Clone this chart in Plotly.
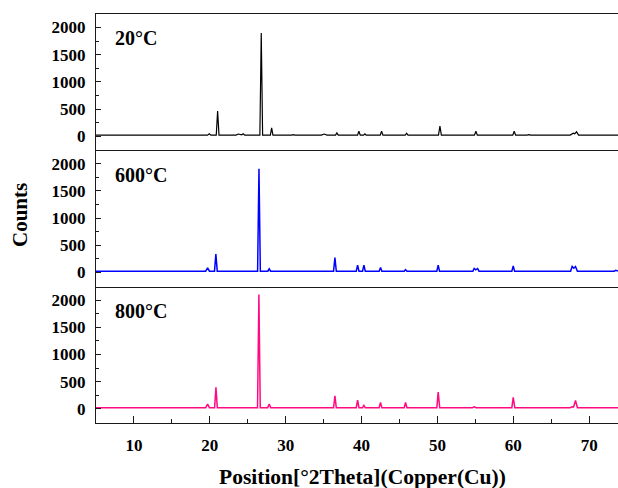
import plotly.graph_objects as go
from plotly.subplots import make_subplots

# XRD patterns (2-theta in degrees, counts) for the three treatment temperatures
two_theta_20c = [5.0, 19.7, 19.93, 20.15, 20.85, 21.03, 21.21,
                 23.45, 23.75, 24.05, 24.2, 24.4, 24.6,
                 26.6, 26.78, 26.96, 27.98, 28.15, 28.32,
                 30.8, 31.0, 31.2, 34.7, 35.08, 35.45,
                 36.57, 36.75, 36.93, 39.47, 39.65, 39.83,
                 40.27, 40.44, 40.61, 42.46, 42.64, 42.82,
                 45.76, 45.94, 46.12, 50.14, 50.33, 50.52,
                 54.88, 55.07, 55.26, 59.93, 60.12, 60.31,
                 61.8, 62.06, 62.3, 67.5, 67.9, 68.1, 68.34, 68.6, 73.8]
counts_20c = [20, 20, 45, 20, 20, 465, 20,
              20, 40, 25, 25, 45, 20,
              20, 1900, 20, 20, 153, 20,
              20, 30, 20, 20, 40, 20,
              20, 60, 20, 20, 92, 20,
              20, 45, 20, 20, 90, 20,
              20, 55, 20, 20, 185, 20,
              20, 90, 20, 20, 90, 20,
              20, 28, 20, 20, 55, 45, 80, 20, 20]

two_theta_600c = [5.0, 19.45, 19.71, 19.95, 20.62, 20.8, 20.98,
                  23.4, 23.75, 24.1, 26.3, 26.48, 26.66,
                  27.65, 27.83, 28.01, 30.4, 30.56, 30.72,
                  34.4, 34.7, 35.0, 36.31, 36.49, 36.67,
                  39.3, 39.48, 39.66, 39.9, 40.13, 40.31, 40.49,
                  42.32, 42.5, 42.68, 45.62, 45.8, 45.98,
                  49.92, 50.1, 50.28, 54.67, 54.85, 55.05, 55.3, 55.48,
                  59.81, 59.99, 60.17, 63.7, 63.94, 64.2,
                  67.55, 67.76, 67.98, 68.2, 68.45, 73.3, 73.5, 73.8]
counts_600c = [25, 25, 87, 25, 25, 340, 25,
               25, 32, 25, 25, 1910, 25,
               25, 68, 25, 25, 30, 25,
               25, 32, 25, 25, 277, 25,
               25, 136, 25, 25, 25, 136, 25,
               25, 93, 25, 25, 55, 25,
               25, 136, 25, 25, 74, 50, 74, 25,
               25, 123, 25, 25, 30, 25,
               25, 111, 80, 111, 25, 25, 40, 30]

two_theta_800c = [5.0, 19.45, 19.71, 19.95, 20.63, 20.81, 20.99,
                  23.1, 23.5, 23.9, 26.29, 26.47, 26.65,
                  27.63, 27.83, 28.03, 34.4, 34.7, 35.0,
                  36.31, 36.49, 36.67, 39.3, 39.48, 39.66,
                  40.13, 40.31, 40.49, 42.32, 42.5, 42.68,
                  45.62, 45.8, 45.98, 49.92, 50.1, 50.3,
                  54.6, 54.85, 55.1, 59.81, 59.99, 60.2,
                  63.75, 64.0, 64.25, 67.5, 67.76, 67.95, 68.2, 68.45,
                  73.3, 73.5, 73.8]
counts_800c = [22, 22, 87, 22, 22, 395, 22,
               22, 35, 22, 22, 2105, 22,
               22, 87, 22, 22, 32, 22,
               22, 240, 22, 22, 160, 22,
               22, 63, 22, 22, 118, 22,
               22, 118, 22, 22, 309, 22,
               22, 37, 22, 22, 210, 22,
               22, 30, 22, 22, 40, 35, 155, 22,
               22, 20, 22]

panel_labels = ["20°C", "600°C", "800°C"]
line_colors = ["#000000", "#0000ff", "#ff0a82"]
line_widths = [1.2, 1.5, 1.5]
y_ticks = [0, 500, 1000, 1500, 2000]
x_ticks = [10, 20, 30, 40, 50, 60, 70]

FONT = "Liberation Serif"
AXIS_COLOR = "#1a1a1a"
tick_font = dict(family=FONT, size=17, color="#000", weight="bold")


def bold(values):
    return [f"<b>{v}</b>" for v in values]


series = [(two_theta_20c, counts_20c), (two_theta_600c, counts_600c),
          (two_theta_800c, counts_800c)]

fig = make_subplots(rows=3, cols=1, shared_xaxes=True, vertical_spacing=0)

for i, ((xs, ys), color, lw) in enumerate(zip(series, line_colors, line_widths), start=1):
    fig.add_trace(go.Scatter(x=xs, y=ys, mode="lines",
                             line=dict(color=color, width=lw),
                             showlegend=False, hoverinfo="skip"),
                  row=i, col=1)
    fig.update_yaxes(range=[-260, 2248], tickvals=y_ticks, ticktext=bold(y_ticks),
                     ticks="inside", ticklen=5, tickwidth=1, tickcolor=AXIS_COLOR,
                     minor=dict(ticks="inside", dtick=250, tick0=0, ticklen=3,
                                tickcolor=AXIS_COLOR),
                     showline=True, linecolor=AXIS_COLOR, linewidth=1.3,
                     showgrid=False, zeroline=False,
                     tickfont=tick_font, ticklabelstandoff=6,
                     row=i, col=1)
    # one horizontal line per panel boundary: the top panel also carries the frame's top edge
    fig.update_xaxes(range=[5, 73.8], showline=True, mirror=(i == 1),
                     linecolor=AXIS_COLOR, linewidth=1.3,
                     showgrid=False, zeroline=False, row=i, col=1)

fig.update_xaxes(showticklabels=False, ticks="", row=1, col=1)
fig.update_xaxes(showticklabels=False, ticks="", row=2, col=1)
fig.update_xaxes(tickvals=x_ticks, ticktext=bold(x_ticks), ticks="inside", ticklen=7,
                 tickwidth=1, tickcolor=AXIS_COLOR,
                 minor=dict(ticks="inside", dtick=5, tick0=0, ticklen=3.5,
                            tickcolor=AXIS_COLOR),
                 tickfont=tick_font, ticklabelstandoff=6, row=3, col=1)

label_y = [0.941, 0.6056, 0.2738]
for text, yy in zip(panel_labels, label_y):
    fig.add_annotation(text=f"<b>{text}</b>", xref="paper", yref="paper",
                       x=0.0326, y=yy, xanchor="left", yanchor="middle",
                       showarrow=False, font=dict(family=FONT, size=20, color="#000"))

fig.add_annotation(text="<b>Position[°2Theta](Copper(Cu))</b>", xref="x3", yref="paper",
                   x=40.1, y=-0.132, xanchor="center", yanchor="middle",
                   showarrow=False, font=dict(family=FONT, size=21.5, color="#000"))
fig.add_annotation(text="<b>Counts</b>", xref="paper", yref="paper",
                   x=-0.1456, y=0.5086, xanchor="center", yanchor="middle",
                   textangle=-90, showarrow=False,
                   font=dict(family=FONT, size=21, color="#000"))

fig.update_layout(width=618, height=488,
                  margin=dict(l=96, r=0, t=14, b=65),
                  paper_bgcolor="white", plot_bgcolor="white",
                  font=dict(family=FONT, color="#000"))

fig.write_html("out.html")
